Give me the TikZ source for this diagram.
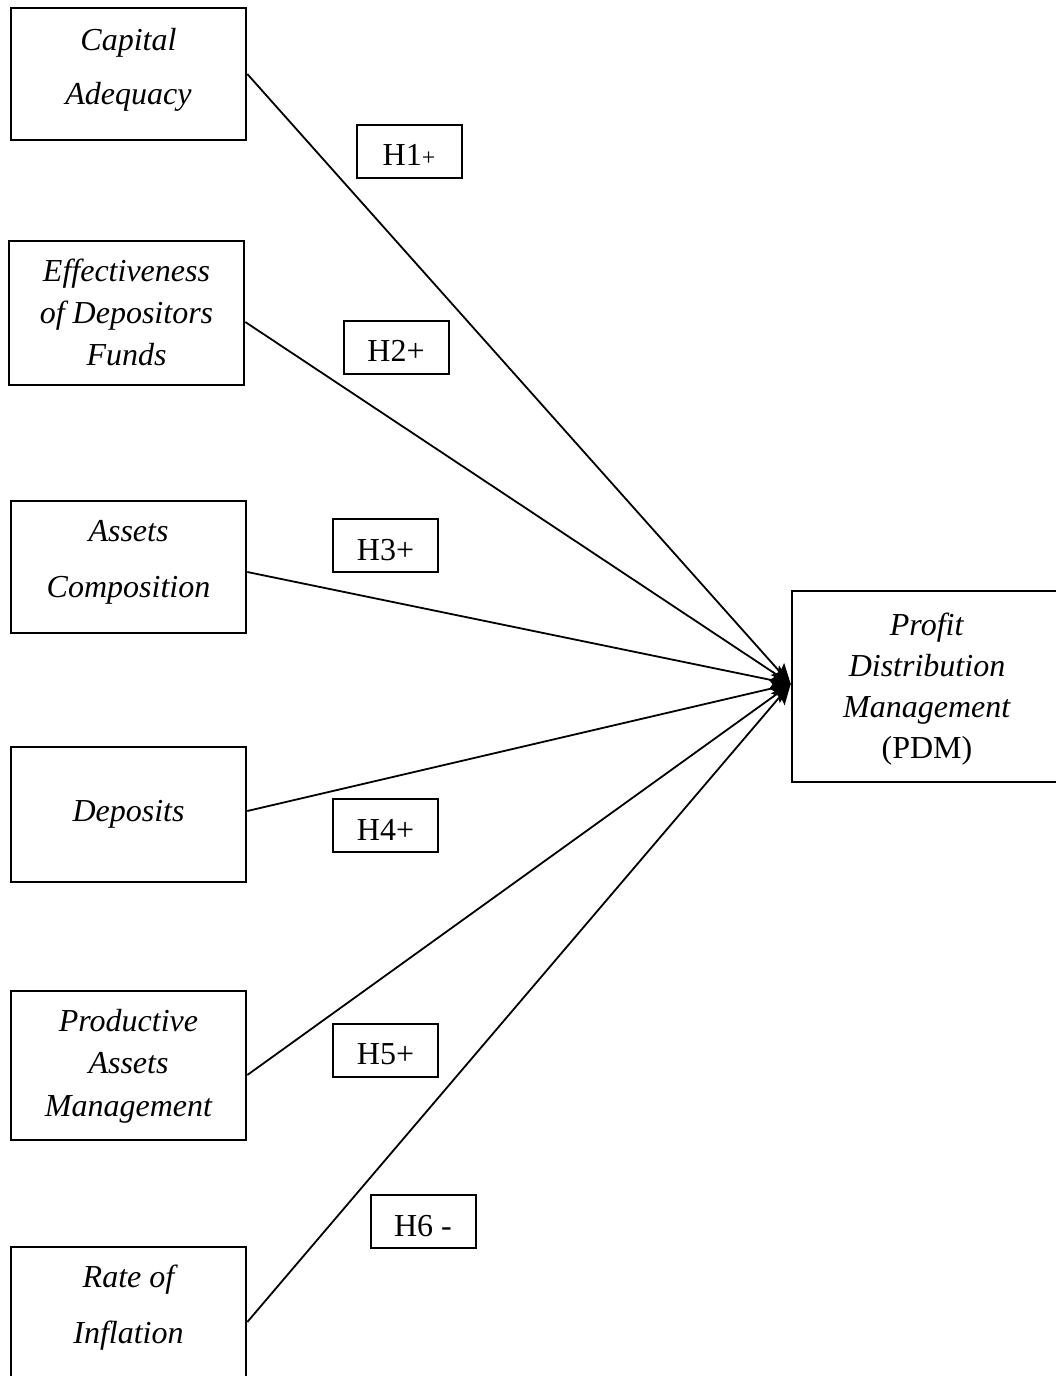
\documentclass[tikz,border=0pt]{standalone}
\usepackage{fontspec}
\setmainfont{Liberation Serif}
\usetikzlibrary{arrows.meta}
\begin{document}
\begin{tikzpicture}[x=1pt,y=-1pt,
  every node/.style={font=\fontsize{32}{40}\selectfont},
  varbox/.style={draw, line width=2.6pt, inner sep=0pt, minimum width=235pt},
  hypbox/.style={draw, line width=2pt, inner sep=0pt, minimum width=105pt, minimum height=53pt, text height=29pt, text depth=0pt},
  vartext/.style={align=center, inner sep=0pt, anchor=base},
  link/.style={line width=1.8pt, -{Stealth[length=20pt,width=18pt,inset=4pt]}}]
\useasboundingbox (0,0) rectangle (1056,1376);
\clip (0,0) rectangle (1056,1376);

% variable boxes
\node[varbox, minimum height=132pt] (cap) at (128.5,74) {};
\node[varbox, minimum height=144pt] (eff) at (126.5,313) {};
\node[varbox, minimum height=132pt] (ac)  at (128.5,567) {};
\node[varbox, minimum height=135pt] (dep) at (128.5,814.5) {};
\node[varbox, minimum height=149pt] (pam) at (128.5,1065.5) {};
\node[varbox, minimum height=150pt] (roi) at (128.5,1322) {};
\node[draw, line width=2.6pt, inner sep=0pt, minimum width=288pt, minimum height=191pt] (pdm) at (936,686.5) {};

% texts (anchor = baseline of last line)
\node[vartext, font=\fontsize{32}{54}\selectfont\itshape] (capt) at (128.5,104) {Capital\\Adequacy};
\node[vartext, font=\fontsize{32}{42}\selectfont\itshape] (efft) at (126.5,365) {Effectiveness\\of Depositors\\Funds};
\node[vartext, font=\fontsize{32}{56}\selectfont\itshape] (act) at (128.5,597) {Assets\\Composition};
\node[vartext, font=\fontsize{32}{42}\selectfont\itshape] (dept) at (128.5,821) {Deposits};
\node[vartext, font=\fontsize{32}{42.5}\selectfont\itshape] (pamt) at (128.5,1116) {Productive\\Assets\\Management};
\node[vartext, font=\fontsize{32}{56}\selectfont\itshape] (roit) at (128.5,1343) {Rate of\\Inflation};
\node[vartext, font=\fontsize{32}{41}\selectfont] (pdmt) at (927,758) {\textit{Profit}\\\textit{Distribution}\\\textit{Management}\\(PDM)};

% connectors
\coordinate (tip) at ([yshift=2.5pt]pdm.west);
\draw[link] (cap.east) -- (tip);
\draw[link] ([yshift=-9pt]eff.east) -- (tip);
\draw[link] ([yshift=-5pt]ac.east) -- (tip);
\draw[link] ([yshift=3.5pt]dep.east) -- (tip);
\draw[link] ([yshift=-9.5pt]pam.east) -- (tip);
\draw[link] (roi.east) -- (tip);

% hypothesis labels
\node[hypbox, fill=white] (h1) at (409,151) {H1{\fontsize{24}{24}\selectfont+}};
\node[hypbox, fill=white] (h2) at (396,347) {H2+};
\node[hypbox, fill=white] (h3) at (385.5,545.5) {H3+};
\node[hypbox, fill=white] (h4) at (385.5,825.5) {H4+};
\node[hypbox, fill=white] (h5) at (385.5,1050) {H5+};
\node[hypbox, fill=white] (h6) at (423,1221.5) {H6 -};
\end{tikzpicture}
\end{document}
